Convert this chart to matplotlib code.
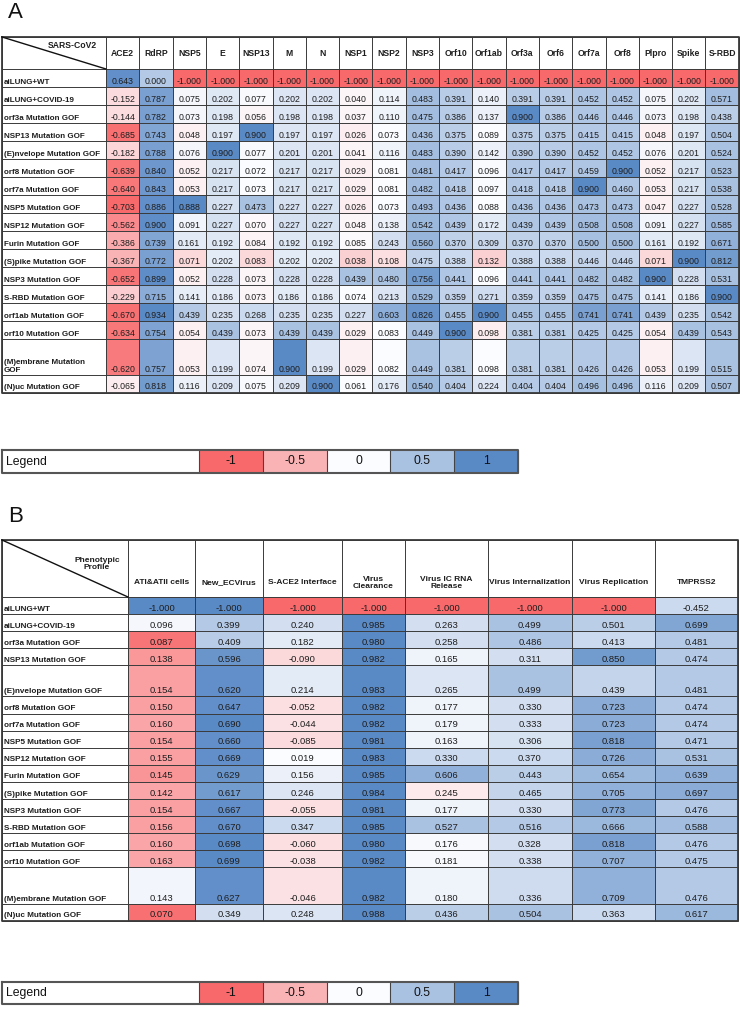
import numpy as np
import matplotlib.pyplot as plt
from matplotlib.colors import LinearSegmentedColormap

plt.rcParams['font.family'] = ['Liberation Sans', 'DejaVu Sans']

# row names (same in both panels)
conditions = ["aiLUNG+WT", "aiLUNG+COVID-19", "orf3a Mutation GOF", "NSP13 Mutation GOF",
              "(E)nvelope Mutation GOF", "orf8 Mutation GOF", "orf7a Mutation GOF",
              "NSP5 Mutation GOF", "NSP12 Mutation GOF", "Furin Mutation GOF",
              "(S)pike Mutation GOF", "NSP3 Mutation GOF", "S-RBD Mutation GOF",
              "orf1ab Mutation GOF", "orf10 Mutation GOF", "(M)embrane Mutation GOF",
              "(N)uc Mutation GOF"]

# panel A
genes = ["ACE2", "RdRP", "NSP5", "E", "NSP13", "M", "N", "NSP1", "NSP2", "NSP3", "Orf10",
         "Orf1ab", "Orf3a", "Orf6", "Orf7a", "Orf8", "Plpro", "Spike", "S-RBD"]
values_a = np.array([
    [0.643, 0.000] + [-1.0] * 17,
    [-0.152, 0.787, 0.075, 0.202, 0.077, 0.202, 0.202, 0.040, 0.114, 0.483, 0.391, 0.140, 0.391, 0.391, 0.452, 0.452, 0.075, 0.202, 0.571],
    [-0.144, 0.782, 0.073, 0.198, 0.056, 0.198, 0.198, 0.037, 0.110, 0.475, 0.386, 0.137, 0.900, 0.386, 0.446, 0.446, 0.073, 0.198, 0.438],
    [-0.685, 0.743, 0.048, 0.197, 0.900, 0.197, 0.197, 0.026, 0.073, 0.436, 0.375, 0.089, 0.375, 0.375, 0.415, 0.415, 0.048, 0.197, 0.504],
    [-0.182, 0.788, 0.076, 0.900, 0.077, 0.201, 0.201, 0.041, 0.116, 0.483, 0.390, 0.142, 0.390, 0.390, 0.452, 0.452, 0.076, 0.201, 0.524],
    [-0.639, 0.840, 0.052, 0.217, 0.072, 0.217, 0.217, 0.029, 0.081, 0.481, 0.417, 0.096, 0.417, 0.417, 0.459, 0.900, 0.052, 0.217, 0.523],
    [-0.640, 0.843, 0.053, 0.217, 0.073, 0.217, 0.217, 0.029, 0.081, 0.482, 0.418, 0.097, 0.418, 0.418, 0.900, 0.460, 0.053, 0.217, 0.538],
    [-0.703, 0.886, 0.888, 0.227, 0.473, 0.227, 0.227, 0.026, 0.073, 0.493, 0.436, 0.088, 0.436, 0.436, 0.473, 0.473, 0.047, 0.227, 0.528],
    [-0.562, 0.900, 0.091, 0.227, 0.070, 0.227, 0.227, 0.048, 0.138, 0.542, 0.439, 0.172, 0.439, 0.439, 0.508, 0.508, 0.091, 0.227, 0.585],
    [-0.386, 0.739, 0.161, 0.192, 0.084, 0.192, 0.192, 0.085, 0.243, 0.560, 0.370, 0.309, 0.370, 0.370, 0.500, 0.500, 0.161, 0.192, 0.671],
    [-0.367, 0.772, 0.071, 0.202, 0.083, 0.202, 0.202, 0.038, 0.108, 0.475, 0.388, 0.132, 0.388, 0.388, 0.446, 0.446, 0.071, 0.900, 0.812],
    [-0.652, 0.899, 0.052, 0.228, 0.073, 0.228, 0.228, 0.439, 0.480, 0.756, 0.441, 0.096, 0.441, 0.441, 0.482, 0.482, 0.900, 0.228, 0.531],
    [-0.229, 0.715, 0.141, 0.186, 0.073, 0.186, 0.186, 0.074, 0.213, 0.529, 0.359, 0.271, 0.359, 0.359, 0.475, 0.475, 0.141, 0.186, 0.900],
    [-0.670, 0.934, 0.439, 0.235, 0.268, 0.235, 0.235, 0.227, 0.603, 0.826, 0.455, 0.900, 0.455, 0.455, 0.741, 0.741, 0.439, 0.235, 0.542],
    [-0.634, 0.754, 0.054, 0.439, 0.073, 0.439, 0.439, 0.029, 0.083, 0.449, 0.900, 0.098, 0.381, 0.381, 0.425, 0.425, 0.054, 0.439, 0.543],
    [-0.620, 0.757, 0.053, 0.199, 0.074, 0.900, 0.199, 0.029, 0.082, 0.449, 0.381, 0.098, 0.381, 0.381, 0.426, 0.426, 0.053, 0.199, 0.515],
    [-0.065, 0.818, 0.116, 0.209, 0.075, 0.209, 0.900, 0.061, 0.176, 0.540, 0.404, 0.224, 0.404, 0.404, 0.496, 0.496, 0.116, 0.209, 0.507],
])
# cell colour level (excel conditional formatting, -1 red .. 1 blue)
shade_a = np.array([
    [0.95, 0.45] + [-1.0] * 17,
    [-0.22, 0.8, 0.05, 0.18, 0.03, 0.2, 0.2, -0.05, 0.08, 0.55, 0.42, 0.1, 0.42, 0.42, 0.48, 0.48, 0.05, 0.18, 0.55],
    [-0.21, 0.8, 0.05, 0.18, -0.05, 0.2, 0.2, -0.05, 0.08, 0.55, 0.42, 0.1, 1.0, 0.42, 0.47, 0.47, 0.05, 0.18, 0.4],
    [-0.95, 0.75, -0.08, 0.18, 1.0, 0.2, 0.2, -0.1, 0.0, 0.5, 0.4, 0.0, 0.4, 0.4, 0.44, 0.44, -0.08, 0.18, 0.48],
    [-0.26, 0.8, 0.05, 1.0, 0.03, 0.2, 0.2, -0.05, 0.08, 0.55, 0.42, 0.1, 0.42, 0.42, 0.48, 0.48, 0.05, 0.18, 0.5],
    [-0.9, 0.88, -0.08, 0.22, 0.0, 0.22, 0.22, -0.08, 0.0, 0.55, 0.45, 0.02, 0.45, 0.45, 0.48, 1.0, -0.08, 0.22, 0.5],
    [-0.9, 0.88, -0.08, 0.22, 0.0, 0.22, 0.22, -0.08, 0.0, 0.55, 0.45, 0.02, 0.45, 0.45, 1.0, 0.48, -0.08, 0.22, 0.52],
    [-1.0, 0.95, 1.0, 0.24, 0.5, 0.24, 0.24, -0.1, 0.0, 0.56, 0.47, 0.0, 0.47, 0.47, 0.5, 0.5, -0.08, 0.24, 0.5],
    [-0.78, 0.97, 0.06, 0.24, -0.03, 0.24, 0.24, -0.05, 0.1, 0.6, 0.47, 0.15, 0.47, 0.47, 0.55, 0.55, 0.06, 0.24, 0.58],
    [-0.55, 0.75, 0.15, 0.18, -0.06, 0.18, 0.18, -0.02, 0.25, 0.62, 0.38, 0.32, 0.38, 0.38, 0.53, 0.53, 0.15, 0.18, 0.65],
    [-0.5, 0.8, -0.25, 0.15, -0.25, 0.15, 0.15, -0.3, -0.2, 0.35, 0.3, -0.3, 0.3, 0.3, 0.35, 0.35, -0.25, 1.0, 0.85],
    [-0.92, 0.97, -0.08, 0.25, -0.05, 0.25, 0.25, 0.5, 0.5, 0.85, 0.47, 0.0, 0.47, 0.47, 0.52, 0.52, 1.0, 0.25, 0.52],
    [-0.32, 0.7, 0.12, 0.15, -0.05, 0.15, 0.15, 0.0, 0.2, 0.6, 0.36, 0.27, 0.36, 0.36, 0.5, 0.5, 0.12, 0.15, 1.0],
    [-0.95, 1.0, 0.45, 0.25, 0.3, 0.25, 0.25, 0.25, 0.68, 0.92, 0.5, 1.0, 0.5, 0.5, 0.8, 0.8, 0.45, 0.25, 0.52],
    [-0.9, 0.77, -0.08, 0.5, -0.05, 0.5, 0.5, -0.08, 0.0, 0.5, 1.0, -0.1, 0.4, 0.4, 0.44, 0.44, -0.08, 0.5, 0.52],
    [-0.88, 0.78, -0.08, 0.2, -0.05, 1.0, 0.2, -0.08, 0.0, 0.5, 0.4, 0.0, 0.4, 0.4, 0.44, 0.44, -0.08, 0.2, 0.5],
    [-0.1, 0.85, 0.1, 0.2, 0.02, 0.2, 1.0, 0.0, 0.15, 0.6, 0.43, 0.2, 0.43, 0.43, 0.53, 0.53, 0.1, 0.2, 0.5],
])

# panel B
profiles = ["ATI&ATII cells", "New_ECVirus", "S-ACE2 Interface", "Virus\nClearance",
            "Virus IC RNA\nRelease", "Virus Internalization", "Virus Replication", "TMPRSS2"]
values_b = np.array([
    [-1.000, -1.000, -1.000, -1.000, -1.000, -1.000, -1.000, -0.452],
    [0.096, 0.399, 0.240, 0.985, 0.263, 0.499, 0.501, 0.699],
    [0.087, 0.409, 0.182, 0.980, 0.258, 0.486, 0.413, 0.481],
    [0.138, 0.596, -0.090, 0.982, 0.165, 0.311, 0.850, 0.474],
    [0.154, 0.620, 0.214, 0.983, 0.265, 0.499, 0.439, 0.481],
    [0.150, 0.647, -0.052, 0.982, 0.177, 0.330, 0.723, 0.474],
    [0.160, 0.690, -0.044, 0.982, 0.179, 0.333, 0.723, 0.474],
    [0.154, 0.660, -0.085, 0.981, 0.163, 0.306, 0.818, 0.471],
    [0.155, 0.669, 0.019, 0.983, 0.330, 0.370, 0.726, 0.531],
    [0.145, 0.629, 0.156, 0.985, 0.606, 0.443, 0.654, 0.639],
    [0.142, 0.617, 0.246, 0.984, 0.245, 0.465, 0.705, 0.697],
    [0.154, 0.667, -0.055, 0.981, 0.177, 0.330, 0.773, 0.476],
    [0.156, 0.670, 0.347, 0.985, 0.527, 0.516, 0.666, 0.588],
    [0.160, 0.698, -0.060, 0.980, 0.176, 0.328, 0.818, 0.476],
    [0.163, 0.699, -0.038, 0.982, 0.181, 0.338, 0.707, 0.475],
    [0.143, 0.627, -0.046, 0.982, 0.180, 0.336, 0.709, 0.476],
    [0.070, 0.349, 0.248, 0.988, 0.436, 0.504, 0.363, 0.617],
])
shade_b = np.array([
    [1.0, 1.0, -1.0, -1.0, -1.0, -1.0, -1.0, 0.3],
    [0.04, 0.45, 0.25, 1.0, 0.25, 0.5, 0.4, 0.75],
    [-0.92, 0.42, 0.15, 1.0, 0.25, 0.48, 0.3, 0.45],
    [-0.68, 0.9, -0.25, 1.0, 0.08, 0.25, 0.85, 0.45],
    [-0.62, 0.95, 0.15, 1.0, 0.2, 0.5, 0.35, 0.45],
    [-0.62, 0.95, -0.2, 1.0, 0.08, 0.25, 0.7, 0.45],
    [-0.58, 1.0, -0.18, 1.0, 0.08, 0.25, 0.7, 0.45],
    [-0.62, 0.95, -0.22, 1.0, 0.08, 0.22, 0.8, 0.45],
    [-0.62, 0.95, 0.0, 1.0, 0.3, 0.3, 0.7, 0.5],
    [-0.7, 0.9, 0.1, 1.0, 0.65, 0.4, 0.6, 0.65],
    [-0.58, 0.85, 0.2, 1.0, -0.12, 0.35, 0.65, 0.7],
    [-0.62, 0.95, -0.2, 1.0, 0.08, 0.25, 0.75, 0.45],
    [-0.62, 0.95, 0.3, 1.0, 0.5, 0.45, 0.6, 0.55],
    [-0.58, 1.0, -0.2, 1.0, 0.03, 0.25, 0.8, 0.45],
    [-0.58, 1.0, -0.18, 1.0, 0.03, 0.25, 0.65, 0.45],
    [0.06, 0.95, -0.18, 1.0, 0.08, 0.28, 0.65, 0.45],
    [-0.95, 0.25, 0.2, 1.0, 0.4, 0.5, 0.3, 0.6],
])

legend_levels = [-1, -0.5, 0, 0.5, 1]
legend_labels = ["-1", "-0.5", "0", "0.5", "1"]

cmap = LinearSegmentedColormap.from_list("excel3", ["#F8696B", "#FCFCFF", "#5A8AC6"])
line_c = "#3a3a3a"
txt_c = "#1e1e1e"


def draw_table(ax, x_edges, y_edges, values, shade, col_labels, row_labels,
               corner, head_y, val_fs, head_fs, label_fs):
    ax.pcolormesh(x_edges[1:], y_edges[1:], shade, cmap=cmap, vmin=-1, vmax=1)
    ax.hlines(y_edges, x_edges[0], x_edges[-1], color=line_c, lw=0.7)
    ax.vlines(x_edges, y_edges[0], y_edges[-1], color=line_c, lw=0.7)
    ax.plot([x_edges[0], x_edges[-1], x_edges[-1], x_edges[0], x_edges[0]],
            [y_edges[0], y_edges[0], y_edges[-1], y_edges[-1], y_edges[0]],
            color=line_c, lw=1.3)
    # diagonal header cell
    ax.plot([x_edges[0], x_edges[1]], [y_edges[0], y_edges[1]], color="#111111", lw=1.0)
    ax.text(corner[0], corner[1], corner[2], ha="center", va="center",
            fontsize=head_fs, fontweight="bold", color=txt_c, linespacing=0.9)
    xc = (x_edges[1:-1] + x_edges[2:]) / 2
    for j, lab in enumerate(col_labels):
        ax.text(xc[j], head_y, lab, ha="center", va="center", fontsize=head_fs,
                fontweight="bold", color=txt_c, linespacing=1.0)
    for i, lab in enumerate(row_labels):
        yb = y_edges[i + 2] - 1.5
        ax.text(x_edges[0] + 2, yb, lab, ha="left", va="bottom", fontsize=label_fs,
                fontweight="bold", color=txt_c, linespacing=1.1)
        for j in range(values.shape[1]):
            ax.text(xc[j], yb, f"{values[i, j]:.3f}", ha="center", va="bottom",
                    fontsize=val_fs, color=txt_c)


def draw_legend(ax, y0, y1):
    xs = np.array([199, 263, 327, 390, 454, 518])
    ax.pcolormesh(xs, [y0, y1], np.array([legend_levels]), cmap=cmap, vmin=-1, vmax=1)
    ax.vlines(xs, y0, y1, color="#444444", lw=0.8)
    ax.plot([2, 518, 518, 2, 2], [y0, y0, y1, y1, y0], color="#555555", lw=1.5)
    ym = (y0 + y1) / 2
    ax.text(6, ym, "Legend", ha="left", va="center", fontsize=8.8, color="#111111")
    for k, lab in enumerate(legend_labels):
        ax.text((xs[k] + xs[k + 1]) / 2, ym, lab, ha="center", va="center",
                fontsize=8.8, color="#111111")


fig = plt.figure(figsize=(7.4, 10.11), dpi=100)
ax = fig.add_axes([0, 0, 1, 1])
ax.set_xlim(0, 740)
ax.set_ylim(1011, 0)
ax.axis("off")

# panel A layout (pixels)
xa = np.concatenate([[2], 106 + 33.3 * np.arange(len(genes) + 1)])
ha = [18.0] * 15 + [36.0, 17.5]
ya = np.concatenate([[37, 69], 69 + np.cumsum(ha)])
labels_a = [r.replace("(M)embrane Mutation GOF", "(M)embrane Mutation\nGOF") for r in conditions]
draw_table(ax, xa, ya, values_a, shade_a, genes, labels_a,
           (72, 45, "SARS-CoV2"), 54, 6.3, 6.2, 5.8)
ax.text(8, 13, "A", fontsize=16, ha="left", va="center", color="#111111")
draw_legend(ax, 450, 473)

# panel B layout (pixels)
xb = np.array([2, 128, 195, 263, 342, 405, 488, 572, 655, 738])
hb = [17.1] * 4 + [31.0] + [17.1] * 10 + [37.0, 16.5]
yb = np.concatenate([[540, 597], 597 + np.cumsum(hb)])
draw_table(ax, xb, yb, values_b, shade_b, profiles, conditions,
           (97, 564, "Phenotypic\nProfile"), 583, 6.8, 6.0, 5.9)
ax.text(8, 516, "B", fontsize=16, ha="left", va="center", color="#111111")
draw_legend(ax, 982, 1004)

fig.savefig("out.png", dpi=100)
